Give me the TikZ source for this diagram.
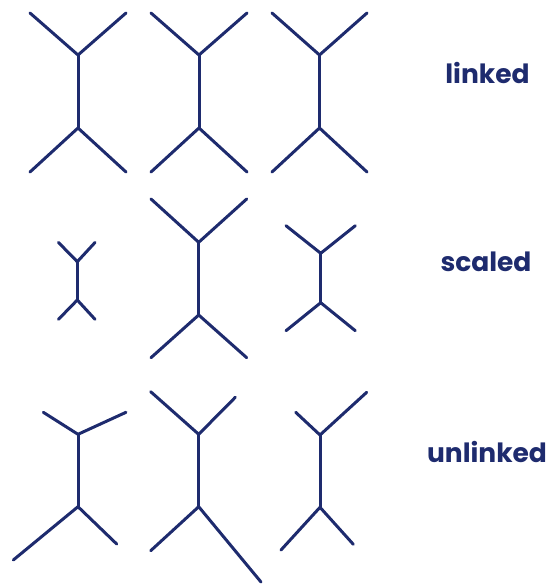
\documentclass[tikz,border=0pt]{standalone}
\usepackage{fontspec}
\setmainfont{Poppins}
\definecolor{navy}{RGB}{30,43,110}
\begin{document}
\begin{tikzpicture}[x=1pt,y=-1pt,
  bone/.style={draw=navy,line width=3pt,line cap=round,line join=round},
  lbl/.style={text=navy,font=\fontsize{26.5}{30}\selectfont\bfseries,inner sep=0pt}]
\useasboundingbox (0,0) rectangle (551,585);
% helper: draw a skeleton with named coordinates
\newcommand{\skel}[9]{%
  \coordinate (#1tl) at #2; \coordinate (#1tj) at #3; \coordinate (#1tr) at #4;
  \coordinate (#1bj) at #5; \coordinate (#1bl) at #6; \coordinate (#1br) at #7;
  \draw[bone] (#1tl) -- (#1tj) -- (#1tr);
  \draw[bone] (#1tj) -- (#1bj);
  \draw[bone] (#1bl) -- (#1bj) -- (#1br);}
% row 1 linked
\skel{a}{(30,13)}{(78,55)}{(126,13)}{(78,128)}{(30,172)}{(126,172)}{}{}
\skel{b}{(151,13)}{(199,55)}{(247,13)}{(199,128)}{(151,172)}{(247,172)}{}{}
\skel{c}{(272,13)}{(319.5,55)}{(367,13)}{(319.5,128)}{(272,172)}{(367,172)}{}{}
% row 2 scaled
\skel{d}{(58.5,242.5)}{(77.3,261.7)}{(95,242.5)}{(77.3,300)}{(58.5,319.3)}{(95,319.3)}{}{}
\skel{e}{(151,199)}{(198.7,242.3)}{(246.7,199)}{(198.7,315)}{(151,357.7)}{(246.7,357.7)}{}{}
\skel{f}{(286,225.7)}{(320.7,253.3)}{(355.3,225.7)}{(320.7,302.7)}{(286,330.7)}{(355.3,330.7)}{}{}
% row 3 unlinked
\skel{g}{(43.3,412.3)}{(78,434.3)}{(126,412.3)}{(78,506.7)}{(13.3,560)}{(116.7,544)}{}{}
\skel{h}{(150.7,391.7)}{(198.7,434.3)}{(235.3,397.3)}{(198.7,506.7)}{(150.7,550.7)}{(261,582)}{}{}
\skel{k}{(295.7,412.3)}{(320,435)}{(366.7,392.3)}{(320,507.3)}{(281,550)}{(353.3,544.3)}{}{}
% labels
\node[lbl] (t1) at (487.5,73) {linked};
\node[lbl] (t2) at (486,262) {scaled};
\node[lbl] (t3) at (487,452) {unlinked};
\end{tikzpicture}
\end{document}
